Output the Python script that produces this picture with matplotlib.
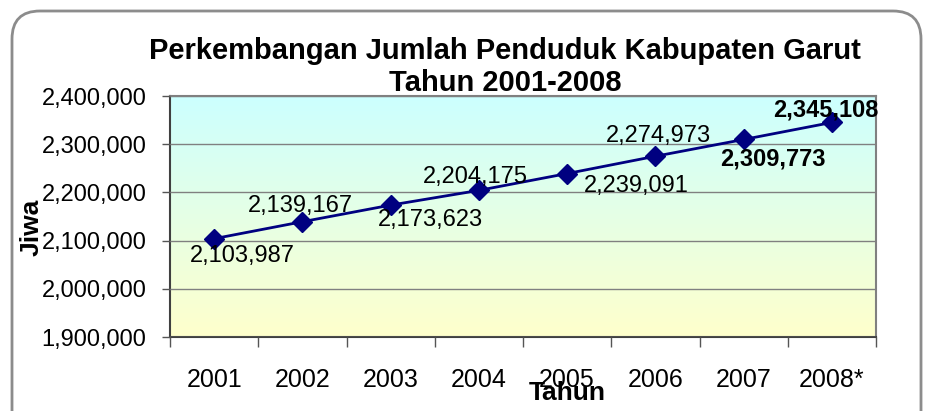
import numpy as np
import matplotlib
matplotlib.use("Agg")
import matplotlib.pyplot as plt
from matplotlib.patches import FancyBboxPatch
from matplotlib.transforms import IdentityTransform
from matplotlib.colors import LinearSegmentedColormap
from matplotlib.ticker import FuncFormatter

plt.rcParams["font.family"] = ["Liberation Sans", "DejaVu Sans"]

# data
years = ["2001", "2002", "2003", "2004", "2005", "2006", "2007", "2008*"]
jiwa = [2103987, 2139167, 2173623, 2204175, 2239091, 2274973, 2309773, 2345108]
# label offsets (pixels) and weight for each point label
label_dx = [28, -2, 40, -3, 69, 3, 29, -6]
label_dy = [-17, 16, -15, 13, -12, 20, -20, 12]
label_bold = [False, False, False, False, False, False, True, True]

W, H = 926, 411
fig = plt.figure(figsize=(W / 100, H / 100), dpi=100)

# rounded chart border
border = FancyBboxPatch((12, -30), 909, 430,
                        boxstyle="round,pad=0,rounding_size=28",
                        transform=IdentityTransform(), fill=False,
                        edgecolor="#8c8c8c", linewidth=2)
fig.patches.append(border)

left, right, top, bottom = 170, 876, 96, 337
ax = fig.add_axes([left / W, (H - bottom) / H, (right - left) / W, (bottom - top) / H])

x = np.arange(len(years))
ax.set_xlim(-0.5, len(years) - 0.5)
ax.set_ylim(1900000, 2400000)

# gradient background: light cyan at top, light yellow at bottom
cmap = LinearSegmentedColormap.from_list("bg", ["#ffffcc", "#ccffff"])
grad = np.linspace(0, 1, 256).reshape(-1, 1)
ax.imshow(grad, cmap=cmap, aspect="auto", origin="lower",
          extent=[-0.5, len(years) - 0.5, 1900000, 2400000], zorder=0)

ax.set_yticks(np.arange(1900000, 2400001, 100000))
ax.yaxis.set_major_formatter(FuncFormatter(lambda v, p: f"{int(v):,}"))
ax.grid(axis="y", color="#808080", linewidth=1.0, zorder=1)
ax.set_axisbelow(False)

ax.set_xticks(np.arange(-0.5, len(years), 1.0))
ax.set_xticklabels([])
ax.set_xticks(x, minor=True)
ax.set_xticklabels(years, minor=True)
ax.tick_params(axis="x", which="major", length=7, width=1, color="#555555")
ax.tick_params(axis="x", which="minor", length=0, pad=22, labelsize=18)
ax.tick_params(axis="y", length=6, width=1, color="#555555", pad=11, labelsize=17)

for s in ax.spines.values():
    s.set_color("#808080")
    s.set_linewidth(1.5)
ax.spines["left"].set_color("#404040")
ax.spines["bottom"].set_color("#404040")

ax.plot(x, jiwa, color="#000080", linewidth=2, marker="D", markersize=10,
        markerfacecolor="#000080", markeredgecolor="#000080", zorder=3, clip_on=False)

for xi, v, dx, dy, b in zip(x, jiwa, label_dx, label_dy, label_bold):
    ax.annotate(f"{v:,}", (xi, v), xytext=(dx * 0.72, dy * 0.72),
                textcoords="offset points", ha="center", va="center",
                fontsize=17, fontweight="bold" if b else "normal", zorder=4)

fig.text(505 / W, 1 - 67 / H, "Perkembangan Jumlah Penduduk Kabupaten Garut\nTahun 2001-2008",
         ha="center", va="center", fontsize=21, fontweight="bold", linespacing=1.15)
fig.text(32 / W, 1 - 227 / H, "Jiwa", rotation=90, ha="center", va="center",
         fontsize=19, fontweight="bold")
fig.text(567 / W, 1 - 393 / H, "Tahun", ha="center", va="center",
         fontsize=19, fontweight="bold")

fig.savefig("out.png", dpi=100)
